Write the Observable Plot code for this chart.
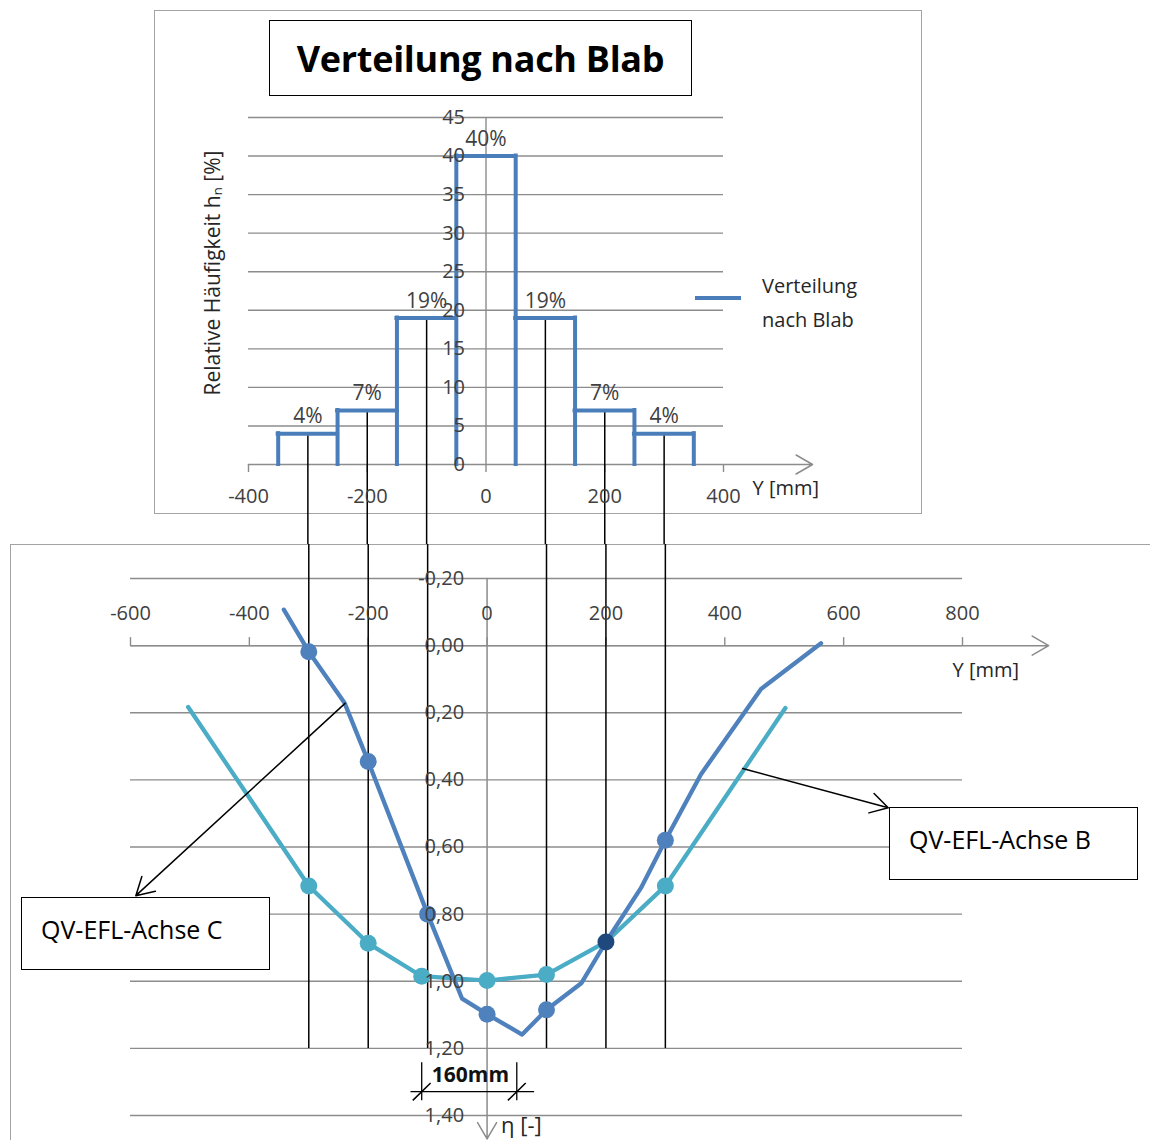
<!DOCTYPE html>
<html>
<head>
<meta charset="utf-8">
<script src="https://cdn.jsdelivr.net/npm/d3@7"></script>
<script src="https://cdn.jsdelivr.net/npm/@observablehq/plot@0.6"></script>
<style>
  html, body { margin: 0; padding: 0; background: #fff; overflow: hidden; }
  #page { position: relative; width: 1150px; height: 1140px; font-family: "Open Sans", sans-serif; color: #262626; }
  .abs { position: absolute; box-sizing: border-box; }
  .frameTop { left: 154px; top: 10px; width: 768px; height: 504px; border: 1.5px solid #a3a3a3; }
  .frameBottom { left: 10px; top: 544px; width: 1160px; height: 620px; border-left: 1.5px solid #a3a3a3; border-top: 1.5px solid #a3a3a3; }
  .svgTop { left: 0; top: 0; }
  .svgBottom { left: 0; top: 544px; }
  .titleBox { left: 269px; top: 20px; width: 423px; height: 76px; border: 1.4px solid #000; background: #fff;
              display: flex; align-items: center; justify-content: center; font-weight: 700; font-size: 36px; color: #000; letter-spacing: -0.3px; }
  .legendLine { left: 695px; top: 296px; width: 46px; height: 4px; background: #4a7ebb; }
  .legendText { left: 762px; top: 269px; font-size: 20px; line-height: 34px; color: #262626; }
  .callout { width: 249px; height: 73px; border: 1.4px solid #000; background: #fff; font-size: 25px; color: #000;
             padding-left: 19px; line-height: 62px; }
  .calloutC { left: 21px; top: 897px; }
  .calloutB { left: 889px; top: 807px; }
</style>
</head>
<body>
<div id="page">
  <div class="abs frameTop"></div>
  <div class="abs frameBottom"></div>
  <div class="abs svgTop" id="top"></div>
  <div class="abs svgBottom" id="bottom"></div>
  <div class="abs titleBox">Verteilung nach Blab</div>
  <div class="abs legendLine"></div>
  <div class="abs legendText">Verteilung<br>nach Blab</div>
  <div class="abs callout calloutC">QV-EFL-Achse C</div>
  <div class="abs callout calloutB">QV-EFL-Achse B</div>
</div>
<script>
// ---------- data: distribution after Blab (top chart) ----------
const binEdges = [-350, -250, -150, -50, 50, 150, 250, 350];
const haeufigkeit = [4, 7, 19, 40, 19, 7, 4];
const binLabels = ["4%", "7%", "19%", "40%", "19%", "7%", "4%"];
const histXTicks = [-400, -200, 0, 200, 400];
const histYTicks = [0, 5, 10, 15, 20, 25, 30, 35, 40, 45];

// ---------- data: influence lines (bottom chart) ----------
const achseC_Y = [-342, -300, -240, -200, -100, -42, 0, 59, 100, 159, 200, 259, 300, 360, 461, 562];
const achseC_eta = [-0.107, 0.018, 0.17, 0.345, 0.80, 1.052, 1.098, 1.159, 1.085, 1.005, 0.883, 0.722, 0.58, 0.383, 0.129, -0.007];
const achseC_marker = [-300, -200, -100, 0, 100, 300];

const achseB_Y = [-503, -300, -200, -110, 0, 100, 200, 300, 502];
const achseB_eta = [0.183, 0.716, 0.887, 0.985, 0.998, 0.98, 0.883, 0.716, 0.186];
const achseB_marker = [-300, -200, -110, 0, 100, 300];

const kreuzung_Y = [200];          // common point of both lines
const efYTicks = [-600, -400, -200, 0, 200, 400, 600, 800];
const etaTicks = [-0.2, 0, 0.2, 0.4, 0.6, 0.8, 1.0, 1.2, 1.4];

// axis extents (arrow tips)
const histAxisEnd = 550;
const efAxisEndY = 945;
const efAxisEndEta = 1.47;

// 160 mm dimension
const dimY = [-110, 50];
const dimEta = [1.243, 1.356, 1.329];   // extension top, extension bottom, dimension line
const dimOverhang = [-128, 80];
const dimLabel = ["160mm"];
const dimLabelPos = [-28, 1.28];

// callout pointers [fromY, fromEta, toY, toEta]
const calloutC = [-239, 0.172, -591, 0.745];
const calloutB = [430, 0.366, 675, 0.483];

// ---------- helpers ----------
const GRID = "#8c8c8c";
const BLUE = "#4f81bd";
const HISTBLUE = "#4a7ebb";
const CYAN = "#4bacc6";
const DARK = "#1f497d";
const TXT = "#404040";
const svgStyle = {background: "transparent", overflow: "visible", maxWidth: "none", fontFamily: "'Open Sans', sans-serif"};

// ---------- top chart ----------
const bins = haeufigkeit.map((v, i) => ({x0: binEdges[i], x1: binEdges[i + 1], v, label: binLabels[i], c: (binEdges[i] + binEdges[i + 1]) / 2}));
const edges = binEdges.map((e, i) => ({x: e, h: Math.max(haeufigkeit[i - 1] ?? 0, haeufigkeit[i] ?? 0)}));
const connectors = bins.filter(b => b.c !== 0);

const topPlot = Plot.plot({
  width: 1150, height: 544,
  marginLeft: 248, marginRight: 427, marginTop: 117, marginBottom: 80,
  x: {domain: [-400, 400], axis: null},
  y: {domain: [0, 45], axis: null},
  style: svgStyle,
  marks: [
    Plot.ruleY(histYTicks.filter(d => d > 0), {y: d => d, x1: -400, x2: 400, stroke: GRID, strokeWidth: 1.4}),
    Plot.ruleX([0], {x: d => d, y1: 0, y2: 45, stroke: GRID, strokeWidth: 1.4}),
    Plot.arrow([0], {x1: -400, y1: 0, x2: histAxisEnd, y2: 0, stroke: GRID, strokeWidth: 1.5, headLength: 19, headAngle: 60}),
    Plot.ruleX(histXTicks, {x: d => d, y1: 0, y2: 0, insetBottom: -8, stroke: GRID, strokeWidth: 1.4}),
    // connecting lines to the influence-line diagram
    Plot.ruleX(connectors, {x: "c", y1: "v", y2: 0, insetBottom: -80, stroke: "#000", strokeWidth: 1.5}),
    // histogram outline
    Plot.ruleX(edges, {x: "x", y1: 0, y2: "h", stroke: HISTBLUE, strokeWidth: 4, strokeLinecap: "square"}),
    Plot.ruleY(bins, {y: "v", x1: "x0", x2: "x1", stroke: HISTBLUE, strokeWidth: 4, strokeLinecap: "square"}),
    // value labels
    Plot.text(bins, {x: "c", y: "v", text: "label", dy: -17, fontSize: 21, fill: TXT}),
    // tick labels
    Plot.text(histYTicks, {x: 0, y: d => d, text: d => String(d), textAnchor: "end", dx: -21, fontSize: 20, fill: TXT}),
    Plot.text(histXTicks, {x: d => d, y: 0, text: d => String(d), dy: 32, fontSize: 20, fill: TXT}),
    Plot.text(["Y [mm]"], {frameAnchor: "bottom-right", textAnchor: "start", lineAnchor: "middle", dx: 29, dy: 24, fontSize: 20, fill: "#262626"}),
    Plot.text(["Relative Häufigkeit hₙ [%]"], {frameAnchor: "left", textAnchor: "middle", lineAnchor: "middle", rotate: -90, dx: -35, dy: -18, fontSize: 21, fill: "#262626"})
  ]
});
document.getElementById("top").appendChild(topPlot);

// ---------- bottom chart ----------
const lineC = achseC_Y.map((y, i) => ({y, eta: achseC_eta[i]}));
const lineB = achseB_Y.map((y, i) => ({y, eta: achseB_eta[i]}));
const dotsC = lineC.filter(d => achseC_marker.includes(d.y));
const dotsB = lineB.filter(d => achseB_marker.includes(d.y));
const dotsX = lineC.filter(d => kreuzung_Y.includes(d.y));
const fmt = d => d.toFixed(2).replace(".", ",");
const slashes = dimY.map(y => ({y, eta: dimEta[2]}));

const bottomPlot = Plot.plot({
  width: 1150, height: 596,
  marginLeft: 130, marginRight: 188, marginTop: 34, marginBottom: 25,
  x: {domain: [-600, 800], axis: null},
  y: {domain: [-0.2, 1.4], reverse: true, axis: null},
  style: svgStyle,
  marks: [
    Plot.ruleY(etaTicks, {y: d => d, x1: -600, x2: 800, stroke: GRID, strokeWidth: 1.4}),
    Plot.arrow([0], {x1: 0, y1: -0.2, x2: 0, y2: efAxisEndEta, stroke: GRID, strokeWidth: 1.5, headLength: 19, headAngle: 60}),
    Plot.arrow([0], {x1: -600, y1: 0, x2: efAxisEndY, y2: 0, stroke: GRID, strokeWidth: 1.5, headLength: 19, headAngle: 60}),
    Plot.ruleX(efYTicks, {x: d => d, y1: 0, y2: 0, insetTop: -8, stroke: GRID, strokeWidth: 1.4}),
    // connecting lines from the distribution
    Plot.ruleX(connectors, {x: "c", y1: -0.2, y2: 1.2, insetTop: -34, stroke: "#000", strokeWidth: 1.5}),
    // influence lines
    Plot.line(lineB, {x: "y", y: "eta", stroke: CYAN, strokeWidth: 4.3, strokeLinejoin: "round"}),
    Plot.line(lineC, {x: "y", y: "eta", stroke: BLUE, strokeWidth: 4.3, strokeLinejoin: "round"}),
    Plot.dot(dotsB, {x: "y", y: "eta", r: 8.5, fill: CYAN}),
    Plot.dot(dotsC, {x: "y", y: "eta", r: 8.5, fill: BLUE}),
    Plot.dot(dotsX, {x: "y", y: "eta", r: 8.5, fill: DARK}),
    // tick labels
    Plot.text(etaTicks, {x: 0, y: d => d, text: fmt, textAnchor: "end", dx: -23, fontSize: 20, fill: TXT}),
    Plot.text(efYTicks, {x: d => d, y: 0, text: d => String(d), dy: -32, fontSize: 20, fill: TXT}),
    Plot.text(["Y [mm]"], {y: 0, frameAnchor: "right", textAnchor: "start", lineAnchor: "middle", dx: -10, dy: 25, fontSize: 20, fill: "#262626"}),
    Plot.text(["η [-]"], {x: 0, frameAnchor: "bottom", textAnchor: "start", lineAnchor: "middle", dx: 14, dy: 10, fontSize: 22, fill: "#262626"}),
    // 160 mm dimension
    Plot.ruleX(dimY, {x: d => d, y1: dimEta[0], y2: dimEta[1], stroke: "#000", strokeWidth: 1.3}),
    Plot.ruleY([dimEta[2]], {y: d => d, x1: dimOverhang[0], x2: dimOverhang[1], stroke: "#000", strokeWidth: 1.3}),
    Plot.link(slashes, {x1: d => d.y - 15, y1: d => d.eta + 0.026, x2: d => d.y + 15, y2: d => d.eta - 0.026, stroke: "#000", strokeWidth: 1.5}),
    Plot.text(dimLabel, {x: dimLabelPos[0], y: dimLabelPos[1], text: d => d, fontSize: 21, fontWeight: "bold", fill: "#111"}),
    // callout pointers
    Plot.arrow([calloutC, calloutB], {x1: d => d[0], y1: d => d[1], x2: d => d[2], y2: d => d[3], stroke: "#000", strokeWidth: 1.5, headLength: 20, headAngle: 60})
  ]
});
document.getElementById("bottom").appendChild(bottomPlot);
</script>
</body>
</html>
